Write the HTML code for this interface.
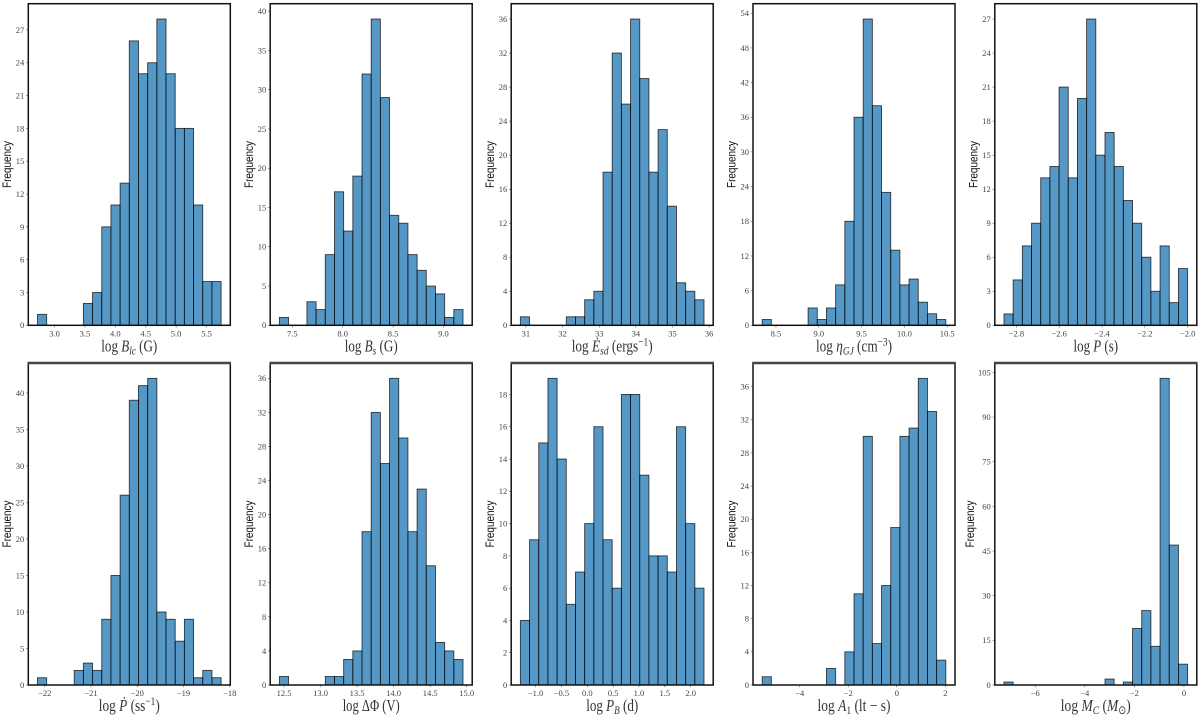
<!DOCTYPE html>
<html lang="en">
<head>
<meta charset="utf-8">
<title>Pulsar parameter histograms</title>
<style>
  html, body { margin: 0; padding: 0; background: #fff; }
  svg { display: block; filter: blur(0.35px); }
  .tick { font-family: "Liberation Serif", serif; font-size: 8.5px; fill: #444; }
  .xlabel { font-family: "Liberation Serif", serif; font-size: 17px; fill: #333; text-anchor: middle; }
  .ylabel { font-family: "Liberation Sans", sans-serif; font-size: 12px; fill: #111; text-anchor: middle; }
</style>
</head>
<body>
<svg id="chart" width="1200" height="718" viewBox="0 0 1200 718" xmlns="http://www.w3.org/2000/svg"></svg>
<script>
// Bin counts
const blcCounts = [1,0,0,0,0,2,3,9,11,13,26,23,24,28,23,18,18,11,4,4];
const bsCounts = [1,0,0,3,2,9,17,12,19,32,39,29,14,13,9,7,5,4,1,2];
const esdCounts = [1,0,0,0,0,1,1,3,4,18,32,26,36,29,18,23,14,5,4,3];
const etaCounts = [1,0,0,0,0,3,1,3,7,18,36,53,38,23,13,7,8,4,2,1];
const pCounts = [1,4,7,9,13,14,21,13,20,27,15,17,14,11,9,6,3,7,2,5];
const pdotCounts = [1,0,0,0,2,3,2,9,15,26,39,41,42,10,9,6,9,1,2,1];
const dphiCounts = [1,0,0,0,0,1,1,3,4,18,32,26,36,29,18,23,14,5,4,3];
const pbCounts = [4,9,15,19,14,5,7,10,16,9,6,18,18,13,8,8,7,16,10,6];
const a1Counts = [1,0,0,0,0,0,0,2,0,4,11,30,5,12,19,30,31,37,33,3];
const mcCounts = [1,0,0,0,0,0,0,0,0,0,0,2,0,1,19,25,13,103,47,7];

// Data range [min, max] of each histogram
const blcRange = [2.72, 5.74];
const bsRange = [7.371, 9.195];
const esdRange = [30.85, 35.86];
const etaRange = [8.339, 10.484];
const pRange = [-2.858, -2.0];
const pdotRange = [-22.158, -18.187];
const dphiRange = [12.436, 14.95];
const pbRange = [-1.293, 2.257];
const a1Range = [-5.55, 2.02];
const mcRange = [-7.26, 0.148];

// X tick values and printed labels
const blcXTicks = [3.0,3.5,4.0,4.5,5.0,5.5];
const blcXLabels = ['3.0','3.5','4.0','4.5','5.0','5.5'];
const bsXTicks = [7.5,8.0,8.5,9.0];
const bsXLabels = ['7.5','8.0','8.5','9.0'];
const esdXTicks = [31,32,33,34,35,36];
const esdXLabels = ['31','32','33','34','35','36'];
const etaXTicks = [8.5,9.0,9.5,10.0,10.5];
const etaXLabels = ['8.5','9.0','9.5','10.0','10.5'];
const pXTicks = [-2.8,-2.6,-2.4,-2.2,-2.0];
const pXLabels = ['\u22122.8','\u22122.6','\u22122.4','\u22122.2','\u22122.0'];
const pdotXTicks = [-22,-21,-20,-19,-18];
const pdotXLabels = ['\u221222','\u221221','\u221220','\u221219','\u221218'];
const dphiXTicks = [12.5,13.0,13.5,14.0,14.5,15.0];
const dphiXLabels = ['12.5','13.0','13.5','14.0','14.5','15.0'];
const pbXTicks = [-1.0,-0.5,0,0.5,1.0,1.5,2.0];
const pbXLabels = ['\u22121.0','\u22120.5','0.0','0.5','1.0','1.5','2.0'];
const a1XTicks = [-4,-2,0,2];
const a1XLabels = ['\u22124','\u22122','0','2'];
const mcXTicks = [-6,-4,-2,0];
const mcXLabels = ['\u22126','\u22124','\u22122','0'];

// Y tick values
const blcYTicks = [0,3,6,9,12,15,18,21,24,27];
const bsYTicks = [0,5,10,15,20,25,30,35,40];
const esdYTicks = [0,4,8,12,16,20,24,28,32,36];
const etaYTicks = [0,6,12,18,24,30,36,42,48,54];
const pYTicks = [0,3,6,9,12,15,18,21,24,27];
const pdotYTicks = [0,5,10,15,20,25,30,35,40];
const dphiYTicks = [0,4,8,12,16,20,24,28,32,36];
const pbYTicks = [0,2,4,6,8,10,12,14,16,18];
const a1YTicks = [0,4,8,12,16,20,24,28,32,36];
const mcYTicks = [0,15,30,45,60,75,90,105];

const NS = 'http://www.w3.org/2000/svg';
const svg = document.getElementById('chart');
const COL_LEFT = [28.3, 270.2, 511.2, 753, 994.8];
const ROW_TOP = [3.7, 363];
const AXES_W = 202;
const AXES_H = [321.6, 322];
const it = s => '<tspan font-style="italic">' + s + '</tspan>';
const sub = s => '<tspan font-style="italic" font-size="12" dy="3">' + s + '</tspan>';
const unsub = s => '<tspan dy="-3">' + s + '</tspan>';
const sup = s => '<tspan font-size="12" dy="-6">' + s + '</tspan>';
const unsup = s => '<tspan dy="6">' + s + '</tspan>';

function node(tag, parent, attrs) {
  const el = document.createElementNS(NS, tag);
  for (const k in attrs) el.setAttribute(k, attrs[k]);
  parent.appendChild(el);
  return el;
}

function drawPanel(p) {
  const left = COL_LEFT[p.col];
  const top = ROW_TOP[p.row];
  const h = AXES_H[p.row];
  const bottom = top + h;
  const g = node('g', svg, {});
  
  

  // axis functions: 5% margins on x, 5% headroom on y
  const inner = AXES_W / 1.1;
  const pad = (AXES_W - inner) / 2;
  const xScale = v => left + pad + (v - p.range[0]) / (p.range[1] - p.range[0]) * inner;
  const yMax = Math.max(...p.counts) * 1.05;
  const yScale = v => bottom - v / yMax * h;
  const binW = (p.range[1] - p.range[0]) / p.counts.length;

  p.counts.forEach((c, i) => {
    const x0 = xScale(p.range[0] + i * binW);
    const x1 = xScale(p.range[0] + (i + 1) * binW);
    const bar = node('rect', g, {
      x: x0, y: yScale(c), width: x1 - x0, height: bottom - yScale(c),
      fill: '#1f77b4', 'fill-opacity': 0.76, stroke: '#000', 'stroke-opacity': 0.72, 'stroke-width': 0.9
    });
    
    
  });

  p.xTicks.forEach((v, i) => {
    const x = xScale(v);
    const mark = node('line', g, { x1: x, x2: x, y1: bottom, y2: bottom + 2.2, stroke: '#333', 'stroke-width': 0.5 });
    
    
    const t = node('text', g, { x: x, y: bottom + 11.2, class: 'tick', 'text-anchor': 'middle' });
    t.textContent = p.xLabels[i];
    
    
  });

  p.yTicks.forEach(v => {
    const y = yScale(v);
    const mark = node('line', g, { x1: left - 2.2, x2: left, y1: y, y2: y, stroke: '#333', 'stroke-width': 0.5 });
    
    
    const t = node('text', g, { x: left - 4, y: y + 2.9, class: 'tick', 'text-anchor': 'end' });
    t.textContent = String(v);
    
    
  });

  const frame = node('rect', g, { x: left, y: top, width: AXES_W, height: h, fill: 'none', stroke: '#111', 'stroke-width': 1.5 });
  
  
  if (p.row === 1) {
    const topEdge = node('line', g, { x1: left - 0.7, x2: left + AXES_W + 0.7, y1: top, y2: top, stroke: '#444', 'stroke-width': 2.4 });
    
    
  }

  const xl = node('text', g, { x: left + AXES_W / 2, y: bottom + 26, class: 'xlabel', textLength: p.labelWidth, lengthAdjust: 'spacingAndGlyphs' });
  xl.innerHTML = p.label;
  
  

  const yx = left - (p.yOffset || 17.3);
  const yy = top + h / 2;
  const yl = node('text', g, {
    x: yx, y: yy, class: 'ylabel', textLength: 47, lengthAdjust: 'spacingAndGlyphs',
    transform: 'rotate(-90 ' + yx + ' ' + yy + ')'
  });
  yl.textContent = 'Frequency';
  
  
}

drawPanel({ name: 'log-blc', col: 0, row: 0, counts: blcCounts, range: blcRange, xTicks: blcXTicks, xLabels: blcXLabels, yTicks: blcYTicks, labelWidth: 56,
  label: 'log ' + it('B') + sub('lc') + unsub(' (G)') });
drawPanel({ name: 'log-bs', col: 1, row: 0, counts: bsCounts, range: bsRange, xTicks: bsXTicks, xLabels: bsXLabels, yTicks: bsYTicks, labelWidth: 53,
  label: 'log ' + it('B') + sub('s') + unsub(' (G)') });
drawPanel({ name: 'log-esd', col: 2, row: 0, counts: esdCounts, range: esdRange, xTicks: esdXTicks, xLabels: esdXLabels, yTicks: esdYTicks, labelWidth: 81,
  label: 'log ' + it('\u0116') + sub('sd') + unsub(' (ergs') + sup('\u22121') + unsup(')') });
drawPanel({ name: 'log-eta-gj', col: 3, row: 0, counts: etaCounts, range: etaRange, xTicks: etaXTicks, xLabels: etaXLabels, yTicks: etaYTicks, labelWidth: 76,
  label: 'log ' + it('\u03b7') + sub('GJ') + unsub(' (cm') + sup('\u22123') + unsup(')') });
drawPanel({ name: 'log-p', col: 4, row: 0, counts: pCounts, range: pRange, xTicks: pXTicks, xLabels: pXLabels, yTicks: pYTicks, labelWidth: 44.5,
  label: 'log ' + it('P') + ' (s)' });
drawPanel({ name: 'log-pdot', col: 0, row: 1, counts: pdotCounts, range: pdotRange, xTicks: pdotXTicks, xLabels: pdotXLabels, yTicks: pdotYTicks, labelWidth: 61,
  label: 'log ' + it('P\u0307') + ' (ss' + sup('\u22121') + unsup(')') });
drawPanel({ name: 'log-delta-phi', col: 1, row: 1, counts: dphiCounts, range: dphiRange, xTicks: dphiXTicks, xLabels: dphiXLabels, yTicks: dphiYTicks, labelWidth: 57,
  label: 'log \u0394\u03a6 (V)' });
drawPanel({ name: 'log-pb', col: 2, row: 1, counts: pbCounts, range: pbRange, xTicks: pbXTicks, xLabels: pbXLabels, yTicks: pbYTicks, labelWidth: 52,
  label: 'log ' + it('P') + sub('B') + unsub(' (d)') });
drawPanel({ name: 'log-a1', col: 3, row: 1, counts: a1Counts, range: a1Range, xTicks: a1XTicks, xLabels: a1XLabels, yTicks: a1YTicks, labelWidth: 73,
  label: 'log ' + it('A') + '<tspan font-size="12" dy="3">1</tspan>' + unsub(' (lt \u2212 s)') });
drawPanel({ name: 'log-mc', col: 4, row: 1, counts: mcCounts, range: mcRange, xTicks: mcXTicks, xLabels: mcXLabels, yTicks: mcYTicks, yOffset: 21, labelWidth: 70,
  label: 'log ' + it('M') + sub('C') + unsub(' (') + it('M') + '<tspan font-size="12" dy="3">\u2299</tspan>' + unsub(')') });
</script>
</body>
</html>
